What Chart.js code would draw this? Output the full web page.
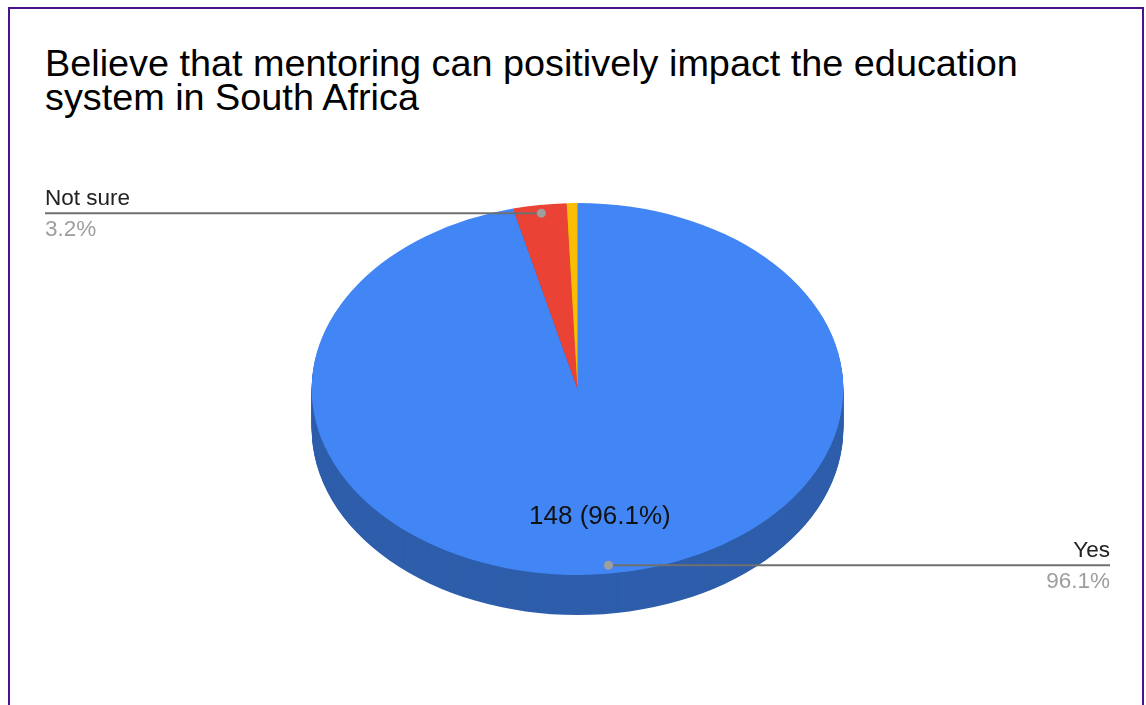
<!DOCTYPE html>
<html lang="en">
<head>
    <meta charset="UTF-8">
    <title>Mentoring and the education system</title>
    <script src="https://cdn.jsdelivr.net/npm/chart.js"></script>
    <style>
        body { margin: 0; background: #fff; overflow: hidden; }
        #frame {
            position: absolute; left: 8px; top: 7px; width: 1136px; height: 720px;
            border: 2px solid #4b1391; box-sizing: border-box;
        }
        #title {
            position: absolute; left: 45px; top: 46px; margin: 0;
            font: 37.8px "Liberation Sans", Arial, sans-serif; line-height: 34px;
            color: #000; font-weight: normal;
        }
        canvas { position: absolute; left: 0; top: 0; }
    </style>
</head>
<body>
<div id="frame"></div>
<h1 id="title">Believe that mentoring can positively impact the education<br>system in South Africa</h1>
<canvas id="pieChart" width="1146" height="705"></canvas>

<script>
    const labels = ['Yes', 'Not sure', 'No'];
    const counts = [148, 5, 1];
    const topColors = ['#4285f4', '#ea4335', '#fbbc04'];
    const sideColors = ['#2e5eab', '#a52f25', '#b08403'];

    const TILT = 186 / 265.8;   // vertical squash of the pie
    const DEPTH = 40;           // thickness of the pie wall
    const FONT = '"Liberation Sans", Arial, sans-serif';

    const total = counts.reduce((a, b) => a + b, 0);
    const pct = v => (v / total * 100).toFixed(1) + '%';

    // squash the pie into an ellipse and draw the wall underneath it
    const tiltPlugin = {
        id: 'tilt',
        beforeDatasetsDraw(chart) {
            const ctx = chart.ctx;
            const arcs = chart.getDatasetMeta(0).data;
            const cx = arcs[0].x, cy = arcs[0].y;

            for (let d = DEPTH; d > 0; d--) {
                ctx.save();
                ctx.translate(cx, cy + d);
                ctx.scale(1, TILT);
                ctx.translate(-cx, -cy);
                arcs.forEach((arc, i) => {
                    ctx.beginPath();
                    ctx.moveTo(cx, cy);
                    ctx.arc(cx, cy, arc.outerRadius, arc.startAngle, arc.endAngle);
                    ctx.closePath();
                    ctx.fillStyle = sideColors[i];
                    ctx.fill();
                });
                ctx.restore();
            }

            ctx.save();
            ctx.translate(cx, cy);
            ctx.scale(1, TILT);
            ctx.translate(-cx, -cy);
        },
        afterDatasetsDraw(chart) {
            const ctx = chart.ctx;
            ctx.restore();

            const arcs = chart.getDatasetMeta(0).data;
            arcs.forEach((arc, i) => {
                const mid = (arc.startAngle + arc.endAngle) / 2;
                const share = counts[i] / total;

                // value inside the big slice
                if (share > 0.5) {
                    const r = arc.outerRadius * 0.69;
                    ctx.font = '26px ' + FONT;
                    ctx.fillStyle = '#111';
                    ctx.textAlign = 'center';
                    ctx.textBaseline = 'middle';
                    ctx.fillText(counts[i] + ' (' + pct(counts[i]) + ')',
                        arc.x + Math.cos(mid) * r, arc.y + Math.sin(mid) * r * TILT);
                }

                // callouts with leader lines
                if (share < 0.01) return;
                const r = arc.outerRadius * 0.955;
                const px = arc.x + Math.cos(mid) * r;
                const py = arc.y + Math.sin(mid) * r * TILT;
                const left = Math.cos(mid) < 0;
                const ex = left ? 45 : 1110;

                ctx.strokeStyle = '#707070';
                ctx.lineWidth = 2;
                ctx.beginPath();
                ctx.moveTo(px, py);
                ctx.lineTo(ex, py);
                ctx.stroke();

                ctx.fillStyle = '#9e9e9e';
                ctx.beginPath();
                ctx.arc(px, py, 4.5, 0, Math.PI * 2);
                ctx.fill();

                ctx.font = '22.5px ' + FONT;
                ctx.textAlign = left ? 'left' : 'right';
                ctx.textBaseline = 'alphabetic';
                ctx.fillStyle = '#222';
                ctx.fillText(labels[i], ex, py - 8);
                ctx.fillStyle = '#9e9e9e';
                ctx.fillText(pct(counts[i]), ex, py + 23);
            });
        }
    };

    const ctx = document.getElementById('pieChart').getContext('2d');
    new Chart(ctx, {
        type: 'pie',
        data: {
            labels: labels,
            datasets: [{
                data: counts,
                backgroundColor: topColors,
                borderWidth: 0,
                radius: 265.8,
                clip: false
            }]
        },
        options: {
            responsive: false,
            animation: false,
            layout: { padding: { top: 123, bottom: 50, left: 9, right: 0 } },
            plugins: {
                legend: { display: false },
                tooltip: { enabled: false }
            }
        },
        plugins: [tiltPlugin]
    });
</script>
</body>
</html>
